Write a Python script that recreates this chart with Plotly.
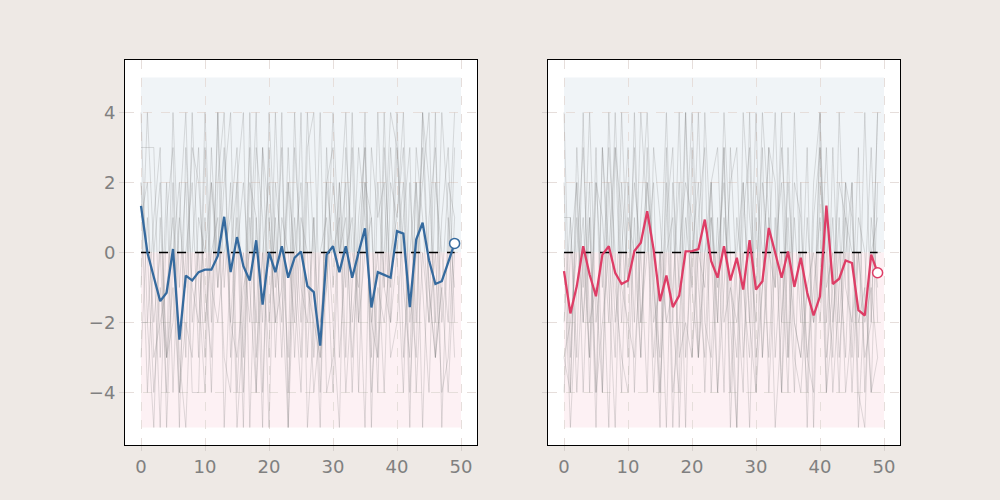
import plotly.graph_objects as go

x_vals = list(range(50))

blue_mean = [1.33, 0.0, -0.7, -1.39, -1.15, 0.1, -2.49, -0.66, -0.8, -0.56,
             -0.49, -0.49, -0.1, 1.02, -0.56, 0.44, -0.39, -0.8, 0.35, -1.49,
             0.0, -0.56, 0.18, -0.72, -0.15, 0.03, -0.96, -1.13, -2.66, -0.06,
             0.18, -0.56, 0.18, -0.72, 0.0, 0.69, -1.57, -0.56, -0.64, -0.72,
             0.61, 0.54, -1.56, 0.37, 0.85, -0.22, -0.9, -0.82, -0.28, 0.26]

red_mean = [-0.53, -1.74, -0.96, 0.18, -0.63, -1.25, -0.06, 0.18, -0.58, -0.9,
            -0.8, 0.04, 0.28, 1.18, 0.09, -1.39, -0.66, -1.56, -1.23, 0.03,
            0.04, 0.1, 0.94, -0.25, -0.72, 0.18, -0.8, -0.15, -1.06, 0.35,
            -1.06, -0.82, 0.7, -0.05, -0.72, 0.03, -0.98, -0.15, -1.15, -1.8,
            -1.25, 1.34, -0.9, -0.75, -0.23, -0.3, -1.65, -1.8, -0.06, -0.58]

left_gray = [
    [4, -2, 1, 3, -5, 0, 2, -3, 4, -1, -4, 2, 0, 3, -2, 1, -5, 4, -3, 0,
     2, -1, 3, -4, 1, -2, 4, 0, -5, 3, -1, 2, -3, 4, -2, 0, 1, -4, 3, -1,
     4, -3, 0, 2, -5, 1, 3, -2, 0, 4],
    [3, 3, 3, -3, 2, -4, 1, 4, -2, 0, -3, 3, -1, 2, 4, -4, 0, -2, 3, 1,
     -5, 2, 0, -3, 4, -1, -2, 1, -4, 2, 3, -3, 0, 1, -2, 4, -5, 2, -1, 3,
     0, -4, 2, -2, 4, -1, -3, 1, 3, -2],
    [-3, 1, -2, 0, -4, 2, -5, 3, -1, -2, 1, -4, 2, 4, -3, 0, 2, -1, -4, 3,
     1, -2, 4, -5, 0, 2, -3, 1, -3, -1, 4, 0, 2, -4, 1, 3, -2, 0, -4, 2,
     1, 3, -4, 0, 2, 4, -3, -1, 2, 1],
    [2, -4, 0, -5, 1, 3, -4, 0, 2, -3, 4, -1, -2, 0, 1, 3, -3, 2, 1, -5,
     4, 0, -2, 3, -1, -4, 2, -3, 0, 1, -2, -5, 3, 0, -1, 2, 1, -3, 4, -2,
     0, 2, -5, 3, 1, -2, 0, -4, -3, 1],
    [1, 2, -3, -2, -1, 1, -3, -5, 0, 3, -2, 0, 1, -3, -4, 2, 4, -5, 1, -2,
     3, -3, 1, 0, -2, 4, -5, -2, -3, 2, 0, 1, -4, -1, 3, 1, -2, -3, 0, 4,
     3, -1, -3, 2, -1, -4, 2, 0, -2, 3],
    [2, 0, -4, -1, -3, -1, -4, -2, -3, 1, 0, 2, -1, 1, -2, -3, -1, 0, 4, -4,
     1, -2, -1, 2, -3, 1, 0, -4, -2, -1, 2, 0, 1, -3, 0, 3, -4, -1, -2, 0,
     1, 4, -2, 0, 3, -1, -3, -1, -4, 0],
    [-2, -2, -5, 1, -3, 4, -1, 2, -4, -4, 3, -2, 4, -1, 2, -5, -2, 3, -4, 0,
     -3, 4, -1, -5, 3, 0, -1, -2, 4, -4, -3, 2, -1, 3, -4, 2, -3, 4, -1, -2,
     3, 0, -1, -3, 4, 2, -2, 4, 1, -3],
    [-1, 4, 0, 2, -3, -2, 1, -1, 3, 2, -1, -3, 4, -5, 0, 2, -4, 1, -2, 3,
     -2, 1, -3, 2, 0, -3, 3, 4, -2, 0, -4, 1, 4, -2, 0, -5, 3, 1, 2, -3,
     -2, 1, 3, -4, 0, -2, 4, -5, 1, -1],
]

right_gray = [
    [2, -4, 3, -1, 4, -2, 0, -5, 3, 1, -3, 4, -2, 0, 2, -4, 1, 3, -5, 0,
     4, -1, -3, 2, -2, 4, 0, -5, 1, 3, -4, 2, 0, -1, 4, -3, 1, -2, 3, -5,
     2, 0, -3, 4, -1, -2, 3, -4, 0, 1],
    [1, 1, -3, 4, -4, 2, -1, 3, 0, -4, 2, -2, 4, 1, -3, 0, -5, 2, -1, 4,
     -3, 1, 3, -4, 0, 2, -2, -5, 4, 1, -1, 3, -4, 0, 2, -3, 4, -1, -4, 2,
     4, -2, 1, -3, 0, 2, -5, -1, 3, -2],
    [-4, 0, 2, -2, 1, -5, 3, 0, -3, 4, -1, 2, 0, -4, 3, 1, -2, -2, 4, -3,
     0, 2, -4, 1, -1, 3, -5, 0, 2, -2, 4, -3, 1, -1, 3, 0, -4, 2, -5, 1,
     3, -1, 0, -4, 2, 1, -3, 4, -2, 4],
    [0, -5, -1, 1, -3, 3, -4, 2, -2, 0, 3, -4, 1, 4, -1, -3, 2, -5, 0, 2,
     1, -3, 4, 0, -4, -1, 2, 3, -3, 0, -2, 4, 1, -5, -2, 2, -1, 0, -3, -4,
     4, -3, -1, 2, 1, -4, 0, -2, -1, -3],
    [-3, -2, 0, 3, -2, -1, -4, 4, -1, -3, -4, 1, -3, 2, 0, -5, 3, -4, -2, 1,
     -1, 4, -2, -3, 1, -4, 3, -1, -4, 4, -3, -1, 3, 2, -4, 0, -2, -3, -1, -2,
     3, -4, -2, 0, -3, 2, -4, -5, 1, -1],
    [-2, 1, -4, 0, -3, 2, 1, -2, 4, -1, -2, -3, 0, 2, -1, -4, 0, 1, -3, -2,
     -3, 0, -1, 2, -4, 1, -1, -2, 0, -5, 1, -3, 0, 4, -2, 1, -3, -4, -1, 0,
     -2, 1, -4, -1, 2, -3, 1, 0, -4, 2],
    [4, -3, 1, -2, 2, -4, 3, -1, -5, 2, -1, 3, -2, 1, -4, 0, -2, -1, 2, -5,
     3, -3, 0, 1, -2, 3, -4, 1, -1, -3, 2, 0, -3, 1, -4, 3, -2, -3, 1, -2,
     -1, 3, -2, 1, -4, -2, 0, -3, -2, 4],
    [-3, -4, 2, -4, 1, -4, -2, 0, 3, -2, 1, 0, -3, 3, -2, -1, 4, -2, -4, 4,
     -1, -3, 0, 2, 3, -2, -1, -3, 2, -2, -4, -1, 3, -3, 0, -4, 2, 1, -3, -1,
     1, -4, 3, -2, 1, 0, -2, -1, -4, -3],
]

x_ticks = [0, 10, 20, 30, 40, 50]
y_ticks = [-4, -2, 0, 2, 4]
y_tick_text = ["\u22124", "\u22122", "0", "2", "4"]
band_x = [0, 50]
band_top = [0, 5]
band_bottom = [-5, 0]

BLUE = "#356a9e"
RED = "#de3d66"
GRAY = "rgba(130,130,130,0.26)"

fig = go.Figure()

panels = [("x", "y", left_gray, blue_mean, BLUE), ("x2", "y2", right_gray, red_mean, RED)]
for xa, ya, grays, mean, col in panels:
    # shaded bands
    fig.add_shape(type="rect", xref=xa, yref=ya, x0=band_x[0], x1=band_x[1],
                  y0=band_top[0], y1=band_top[1], fillcolor="#f0f4f7",
                  line=dict(width=0), layer="below")
    fig.add_shape(type="rect", xref=xa, yref=ya, x0=band_x[0], x1=band_x[1],
                  y0=band_bottom[0], y1=band_bottom[1], fillcolor="#fdf1f4",
                  line=dict(width=0), layer="below")
    for g in grays:
        fig.add_trace(go.Scatter(x=x_vals, y=g, mode="lines", xaxis=xa, yaxis=ya,
                                 line=dict(color=GRAY, width=1), showlegend=False,
                                 hoverinfo="skip"))
    fig.add_trace(go.Scatter(x=[x_vals[0], x_vals[-1]], y=[0, 0], mode="lines",
                             xaxis=xa, yaxis=ya,
                             line=dict(color="black", width=1.5, dash="dash"),
                             showlegend=False))
    fig.add_trace(go.Scatter(x=x_vals, y=mean, mode="lines", xaxis=xa, yaxis=ya,
                             line=dict(color=col, width=2.3), showlegend=False))
    fig.add_trace(go.Scatter(x=[x_vals[-1]], y=[mean[-1]], mode="markers",
                             xaxis=xa, yaxis=ya,
                             marker=dict(size=10, color="white",
                                         line=dict(color=col, width=1.5)),
                             showlegend=False))

axis_common = dict(
    showgrid=True, griddash="dash", gridcolor="#e6dedb", gridwidth=1,
    showline=True, mirror=True, linecolor="black", linewidth=1,
    ticks="outside", ticklen=5, tickcolor="#d8d2cf",
    tickfont=dict(family="DejaVu Sans", size=18, color="#808080"),
    zeroline=False,
)

fig.update_layout(
    width=1000, height=500,
    margin=dict(l=0, r=0, t=0, b=0),
    paper_bgcolor="#eee9e5",
    plot_bgcolor="white",
    xaxis=dict(domain=[0.125, 0.477], range=[-2.5, 52.5], tickvals=x_ticks, **axis_common),
    xaxis2=dict(domain=[0.548, 0.9], range=[-2.5, 52.5], tickvals=x_ticks, anchor="y2", **axis_common),
    yaxis=dict(domain=[0.11, 0.88], range=[-5.5, 5.5], tickvals=y_ticks, ticktext=y_tick_text, **axis_common),
    yaxis2=dict(domain=[0.11, 0.88], range=[-5.5, 5.5], tickvals=y_ticks, showticklabels=False,
                anchor="x2", matches="y", **axis_common),
)

fig.write_html("out.html")
